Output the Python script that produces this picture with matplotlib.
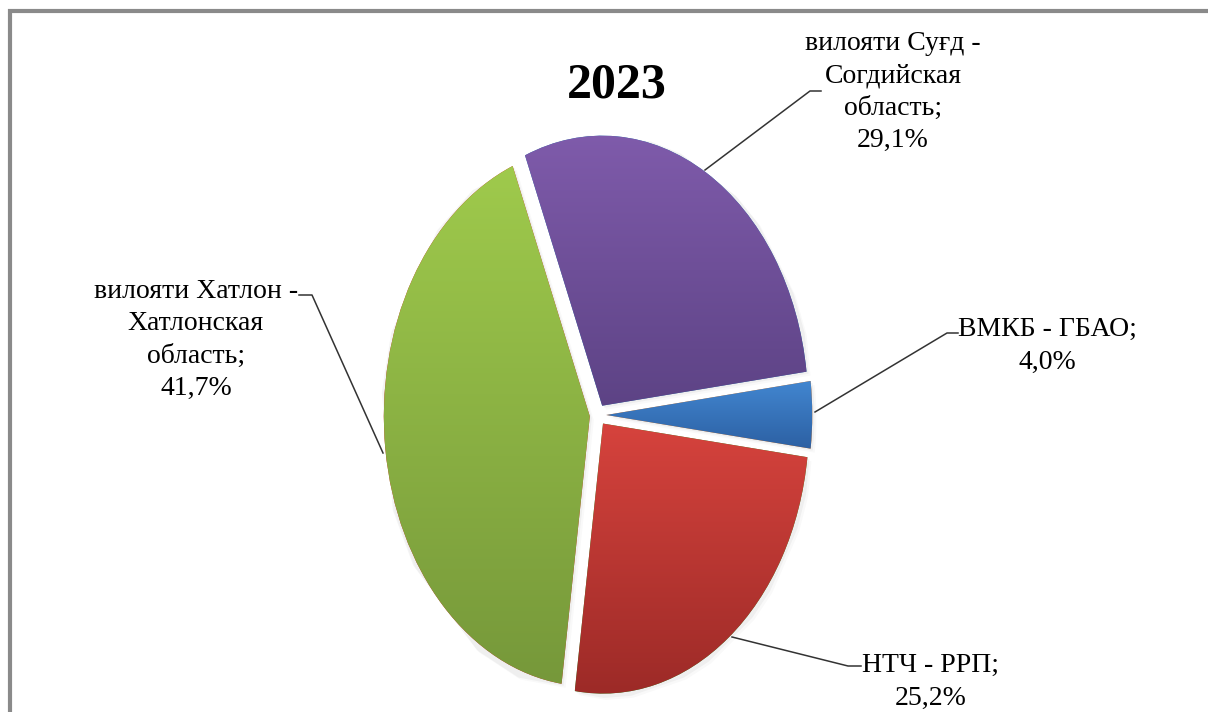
#!/usr/bin/env python3
"""Pie chart of regional shares, 2023."""
import numpy as np
import matplotlib
matplotlib.use('Agg')
import matplotlib.pyplot as plt
from matplotlib.colors import LinearSegmentedColormap

# Data (clockwise from the top-left, as in the original chart)
labels = ['вилояти Суғд -\nСогдийская\nобласть;', 'ВМКБ - ГБАО;', 'НТЧ - РРП;',
          'вилояти Хатлон -\nХатлонская\nобласть;']
shares = [29.1, 4.0, 25.2, 41.7]
# gradient colours per slice (top, bottom)
top_colors = ['#7f5bab', '#4286d0', '#d6433d', '#9fca4c']
bottom_colors = ['#5d4385', '#2c60a3', '#9c2a27', '#76983a']

W, H = 1208, 712
cx, cy = 598, 415          # pie centre in pixels
rx, ry = 206, 270          # stretched pie radii in pixels

fig = plt.figure(figsize=(W / 100, H / 100), dpi=100)
fig.patch.set_facecolor('white')

# pie axes: unit circle shown as an ellipse
ax = fig.add_axes([0, 0, 1, 1])
wedges, _ = ax.pie(shares, startangle=112, counterclock=False, radius=1.0,
                   explode=[0.04] * 4, wedgeprops=dict(linewidth=0))
ax.set_aspect('auto')
ax.axis('off')

# soft shadow under slices
for w in wedges:
    for k, a in [(4, 0.06), (2, 0.10)]:
        sh = plt.Polygon(w.get_path().vertices + np.array([k / rx, -k / ry]),
                         closed=True, facecolor='#999999', edgecolor='none',
                         alpha=a, zorder=0.5)
        ax.add_patch(sh)

# gradient fill clipped to each slice
for w, c0, c1 in zip(wedges, top_colors, bottom_colors):
    v = w.get_path().vertices
    x0, x1 = v[:, 0].min(), v[:, 0].max()
    y0, y1 = v[:, 1].min(), v[:, 1].max()
    cmap = LinearSegmentedColormap.from_list('g', [c1, c0])
    grad = np.linspace(0, 1, 256).reshape(-1, 1)
    im = ax.imshow(grad, cmap=cmap, origin='lower', aspect='auto',
                   extent=[x0, x1, y0, y1], zorder=2, interpolation='bilinear')
    im.set_clip_path(w)
    w.set_zorder(1)
ax.set_xlim(-cx / rx, (W - cx) / rx)
ax.set_ylim((cy - H) / ry, cy / ry)

# overlay axes in pixel coordinates for text, leaders and frame
ov = fig.add_axes([0, 0, 1, 1], facecolor='none')
ov.set_xlim(0, W)
ov.set_ylim(H, 0)
ov.axis('off')

font = 'Liberation Serif'
ov.text(617, 86, '2023', fontsize=36, fontweight='bold', family=font,
        ha='center', va='center')

label_pos = [(893, 92), (1047, 346), (931, 682), (196, 340)]
leaders = [
    [(705, 170), (810, 91), (821, 91)],
    [(815, 412), (947, 333), (958, 333)],
    [(732, 637), (848, 666), (861, 666)],
    [(383, 453), (312, 295), (299, 295)],
]
for lab, s, (tx, ty), pts in zip(labels, shares, label_pos, leaders):
    txt = lab + '\n' + f'{s:.1f}%'.replace('.', ',')
    ov.text(tx, ty, txt, fontsize=20, family=font, ha='center', va='center',
            linespacing=1.38)
    xs, ys = zip(*pts)
    ov.plot(xs, ys, color='#333333', lw=1.1)

# chart frame (left and top edges visible)
ov.plot([10, 10, W], [H, 11, 11], color='#8a8a8a', lw=3, solid_joinstyle='miter')

fig.savefig('out.png', dpi=100)
plt.close(fig)
